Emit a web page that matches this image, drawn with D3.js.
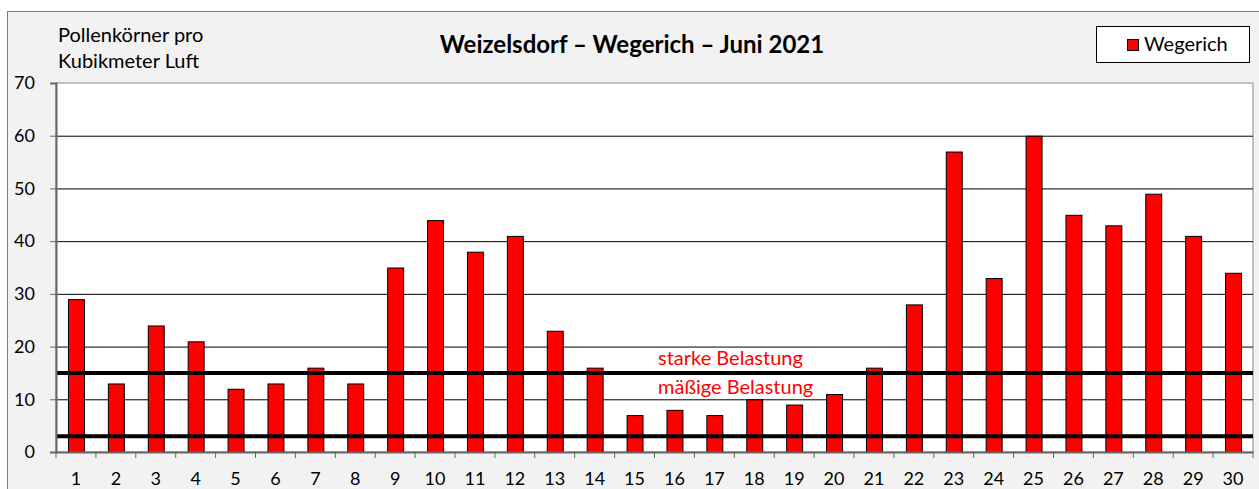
<!DOCTYPE html>
<html>
<head>
<meta charset="utf-8">
<script src="https://cdn.jsdelivr.net/npm/d3@7"></script>
<style>
  body { margin: 0; background: #fff; }
  svg { display: block; font-family: Lato, "Open Sans", sans-serif; }
</style>
</head>
<body>
<svg id="chart" width="1259" height="489"></svg>
<script>
const days = d3.range(1, 31)
const pollen = [29, 13, 24, 21, 12, 13, 16, 13, 35, 44, 38, 41, 23, 16, 7, 8, 7, 10, 9, 11, 16, 28, 57, 33, 60, 45, 43, 49, 41, 34]
const yTicks = [0, 10, 20, 30, 40, 50, 60, 70]
const thresholds = [15, 3]
const thresholdLabels = [
  { text: 'starke Belastung', above: 15 },
  { text: 'mäßige Belastung', above: 3 }
]

const width = 1259
const height = 489
const margin = { top: 83, right: 6, bottom: 37, left: 56 }

const svg = d3.select('#chart')

// chart background + frame
svg.append('rect')
  .attr('x', 7.5).attr('y', 11.5)
  .attr('width', width + 20).attr('height', height + 20)
  .attr('fill', '#f2f2f2')
  .attr('stroke', '#7f7f7f')

const x = d3.scaleBand()
  .domain(days)
  .range([margin.left, width - margin.right])
  .paddingInner(0.6)
  .paddingOuter(0.3)

const y = d3.scaleLinear()
  .domain([0, 70])
  .range([height - margin.bottom, margin.top])

// plot area
svg.append('rect')
  .attr('x', margin.left).attr('y', margin.top)
  .attr('width', width - margin.right - margin.left)
  .attr('height', y(0) - margin.top)
  .attr('fill', '#fff')
  .attr('stroke', '#888')

// gridlines
svg.append('g')
  .selectAll('line')
  .data(yTicks.filter(d => d > 0 && d < 70))
  .enter().append('line')
  .attr('x1', margin.left).attr('x2', width - margin.right)
  .attr('y1', d => y(d) + 0.5).attr('y2', d => y(d) + 0.5)
  .attr('stroke', '#000')
  .attr('stroke-width', 1)

// bars
svg.append('g')
  .selectAll('rect')
  .data(days)
  .enter().append('rect')
  .attr('x', d => x(d) + 0.5)
  .attr('y', (d, i) => y(pollen[i]) + 0.5)
  .attr('width', x.bandwidth())
  .attr('height', (d, i) => y(0) - y(pollen[i]))
  .attr('fill', '#ff0000')
  .attr('stroke', '#000')
  .attr('stroke-width', 1)

// threshold lines
svg.append('g')
  .selectAll('line')
  .data(thresholds)
  .enter().append('line')
  .attr('x1', margin.left).attr('x2', width - margin.right)
  .attr('y1', d => y(d)).attr('y2', d => y(d))
  .attr('stroke', '#000')
  .attr('stroke-width', 4)

svg.append('g')
  .selectAll('text')
  .data(thresholdLabels)
  .enter().append('text')
  .attr('x', 658)
  .attr('y', d => d.above === 15 ? y(15) - 8 : y(15) + 21)
  .attr('fill', '#ff0000')
  .attr('font-size', 20)
  .text(d => d.text)

// y axis
const yAxis = svg.append('g')
  .attr('transform', `translate(${margin.left},0)`)
  .call(d3.axisLeft(y).tickValues(yTicks).tickSize(6).tickPadding(15))
yAxis.select('.domain').attr('stroke', '#666').attr('stroke-width', 2)
yAxis.selectAll('.tick line').attr('stroke', '#666')
yAxis.selectAll('text').attr('font-size', 18).attr('fill', '#000')
  .attr('font-family', 'Lato, sans-serif')

// x axis
const xAxis = svg.append('g')
  .attr('transform', `translate(0,${y(0)})`)
  .call(d3.axisBottom(x).tickSize(0).tickPadding(20))
xAxis.select('.domain').attr('stroke', '#666').attr('stroke-width', 2)
xAxis.selectAll('text').attr('font-size', 18).attr('fill', '#000')
  .attr('font-family', 'Lato, sans-serif')

const edges = days.map(d => x(d) - x.step() * x.paddingInner() / 2)
edges.push(width - margin.right)
xAxis.append('g')
  .selectAll('line')
  .data(edges)
  .enter().append('line')
  .attr('x1', d => d).attr('x2', d => d)
  .attr('y1', 0).attr('y2', 6)
  .attr('stroke', '#666')

// title
svg.append('text')
  .attr('x', 632).attr('y', 53)
  .attr('text-anchor', 'middle')
  .attr('font-size', 24)
  .attr('font-weight', 'bold')
  .text('Weizelsdorf – Wegerich – Juni 2021')

// axis caption
svg.append('text')
  .attr('x', 58).attr('y', 42)
  .attr('font-size', 20)
  .text('Pollenkörner pro')
svg.append('text')
  .attr('x', 58).attr('y', 68)
  .attr('font-size', 20)
  .text('Kubikmeter Luft')

// legend
const legend = svg.append('g')
legend.append('rect')
  .attr('x', 1096.5).attr('y', 26.5)
  .attr('width', 153).attr('height', 36)
  .attr('fill', '#fff')
  .attr('stroke', '#000')
legend.append('rect')
  .attr('x', 1127.5).attr('y', 39.5)
  .attr('width', 11).attr('height', 11)
  .attr('fill', '#ff0000')
  .attr('stroke', '#000')
legend.append('text')
  .attr('x', 1144).attr('y', 51)
  .attr('font-size', 20)
  .text('Wegerich')
</script>
</body>
</html>
